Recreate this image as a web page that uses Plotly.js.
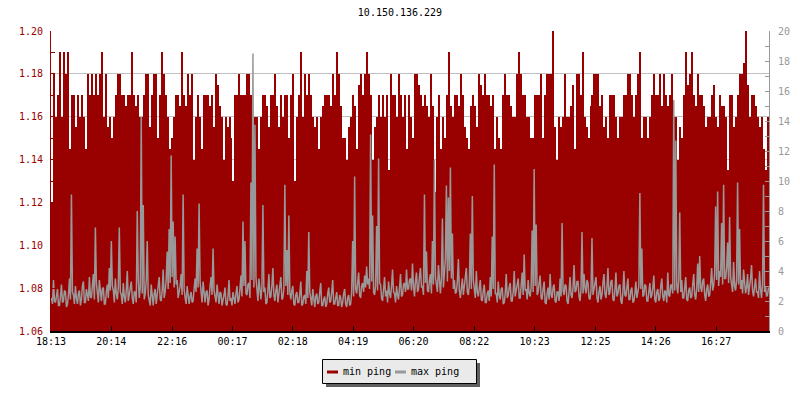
<!DOCTYPE html>
<html><head><meta charset="utf-8">
<script src="https://cdn.plot.ly/plotly-3.0.1.min.js"></script>
<style>html,body{margin:0;padding:0;background:#fff}#chart{width:800px;height:400px}</style>
</head><body><div id="chart"></div>
<script>
const chartTitle = '10.150.136.229';
const tickLabels = ['18:13','20:14','22:16','00:17','02:18','04:19','06:20','08:22','10:23','12:25','14:26','16:27'];
const tickMinutes = [0,121,243,364,485,606,727,849,970,1092,1213,1334];
const totalMinutes = 1440;
const seriesNames = ['min ping','max ping'];
const seriesColors = ['#990000','#999999'];

// min ping, one value every 4 minutes
const minPing = [
1.12,1.18,1.16,1.17,1.19,1.16,1.19,1.18,1.19,1.145,
1.17,1.17,1.155,1.17,1.16,1.17,1.16,1.145,1.18,1.17,
1.18,1.17,1.18,1.17,1.18,1.19,1.16,1.18,1.155,1.16,
1.15,1.16,1.17,1.18,1.18,1.17,1.17,1.165,1.17,1.17,
1.19,1.17,1.165,1.17,1.16,1.16,1.17,1.18,1.18,1.155,
1.17,1.18,1.18,1.15,1.17,1.19,1.18,1.17,1.16,1.145,
1.15,1.16,1.17,1.17,1.165,1.19,1.17,1.165,1.18,1.17,
1.18,1.14,1.16,1.17,1.16,1.145,1.17,1.17,1.17,1.165,
1.17,1.155,1.18,1.175,1.165,1.16,1.14,1.16,1.155,1.16,
1.15,1.13,1.17,1.17,1.18,1.17,1.17,1.17,1.18,1.18,
1.17,1.155,1.16,1.16,1.145,1.16,1.17,1.17,1.165,1.155,
1.17,1.17,1.18,1.165,1.155,1.17,1.16,1.17,1.17,1.15,
1.17,1.18,1.13,1.16,1.17,1.19,1.16,1.18,1.17,1.18,
1.17,1.16,1.155,1.16,1.145,1.16,1.165,1.17,1.17,1.17,
1.165,1.18,1.17,1.19,1.18,1.165,1.15,1.15,1.14,1.155,
1.16,1.17,1.165,1.145,1.175,1.18,1.17,1.18,1.19,1.18,
1.17,1.14,1.155,1.16,1.17,1.16,1.17,1.16,1.17,1.135,
1.18,1.17,1.17,1.16,1.18,1.17,1.16,1.17,1.145,1.17,
1.16,1.15,1.18,1.18,1.175,1.17,1.165,1.17,1.165,1.16,
1.18,1.165,1.125,1.16,1.17,1.145,1.16,1.15,1.17,1.19,
1.165,1.16,1.17,1.17,1.165,1.18,1.17,1.155,1.15,1.145,
1.165,1.17,1.165,1.155,1.18,1.175,1.17,1.18,1.17,1.17,
1.165,1.17,1.145,1.16,1.15,1.145,1.17,1.18,1.17,1.17,
1.165,1.16,1.16,1.18,1.19,1.18,1.17,1.17,1.16,1.16,
1.15,1.15,1.17,1.17,1.17,1.18,1.15,1.17,1.18,1.18,
1.18,1.20,1.155,1.14,1.16,1.155,1.16,1.18,1.16,1.16,
1.165,1.175,1.145,1.18,1.18,1.17,1.19,1.16,1.155,1.15,
1.165,1.17,1.18,1.18,1.18,1.165,1.17,1.155,1.16,1.15,
1.17,1.17,1.17,1.16,1.15,1.16,1.16,1.17,1.17,1.18,
1.18,1.17,1.16,1.17,1.18,1.19,1.15,1.16,1.16,1.15,
1.16,1.17,1.18,1.17,1.17,1.18,1.165,1.18,1.17,1.165,
1.17,1.18,1.16,1.16,1.14,1.155,1.15,1.17,1.19,1.175,
1.18,1.19,1.17,1.165,1.18,1.17,1.17,1.165,1.155,1.16,
1.16,1.17,1.175,1.16,1.155,1.17,1.165,1.165,1.16,1.135,
1.17,1.17,1.155,1.16,1.17,1.18,1.18,1.185,1.20,1.175,
1.16,1.17,1.17,1.165,1.16,1.155,1.16,1.145,1.135,1.16
];

// max ping, one value every 2 minutes
const maxPing = [
2.2,1.8,3.4,2.0,1.9,2.6,2.8,1.7,1.7,2.3,3.1,1.9,2.0,2.7,2.6,1.6,1.8,2.4,3.5,2.1,9.1,2.6,2.4,1.8,3.0,2.2,1.8,2.5,2.7,1.7,2.1,3.0,3.3,1.9,1.9,2.8,2.5,2.0,3.6,2.3,
2.2,2.9,3.8,2.1,6.9,3.2,2.6,1.9,3.4,2.4,2.0,2.8,2.9,1.8,1.8,2.6,3.1,2.2,4.2,2.7,6.0,3.0,2.7,1.9,3.5,2.5,2.1,2.9,6.9,2.6,2.4,1.8,3.2,2.3,1.9,2.7,4.0,2.0,2.5,3.1,
3.3,2.2,1.8,2.6,2.6,1.9,8.0,3.4,2.2,2.9,14.3,2.5,8.4,2.1,2.5,3.3,6.0,2.4,2.0,1.7,3.1,2.3,1.7,2.5,2.8,1.8,2.3,3.0,3.6,2.1,2.0,2.7,4.1,2.2,2.6,3.4,5.3,2.8,6.8,3.2,
11.7,3.6,7.3,2.9,6.3,3.1,3.4,2.2,2.5,3.0,3.8,2.4,9.1,2.8,2.2,1.8,3.0,2.5,1.8,2.3,2.6,1.9,2.0,2.8,3.5,2.6,5.5,2.9,8.5,3.3,2.4,1.9,3.3,2.2,1.9,2.6,2.7,1.7,2.1,3.0,
3.6,2.4,5.5,2.7,2.3,1.9,3.1,2.2,1.8,2.6,2.5,1.7,2.0,2.4,2.9,1.8,1.7,2.3,3.4,2.0,2.2,1.7,2.6,2.1,1.8,2.5,3.0,1.9,2.1,2.8,3.7,2.3,7.3,3.0,6.0,2.5,2.4,3.1,3.2,2.2,
9.9,3.4,18.5,2.9,13.75,3.6,2.6,2.0,3.5,2.4,2.1,2.9,8.4,2.6,2.9,1.8,1.9,2.7,3.8,2.2,2.3,3.0,4.2,2.4,2.0,2.7,3.1,1.9,2.5,3.3,3.6,2.1,2.2,2.8,9.75,3.0,5.4,2.4,7.7,2.6,
2.1,2.7,3.0,1.8,1.7,2.4,2.6,1.9,1.9,2.5,3.3,1.7,1.8,2.3,2.4,1.8,4.0,2.2,6.6,2.6,2.2,1.7,2.8,2.0,1.6,2.3,2.5,1.8,1.9,2.6,3.2,1.7,1.7,2.1,2.3,1.6,1.8,2.5,2.9,1.9,
2.0,2.6,3.4,1.8,1.8,2.2,2.6,1.7,1.7,2.4,2.2,1.6,1.9,2.5,2.8,1.8,1.6,2.2,2.4,1.7,1.8,2.6,6.0,2.3,10.3,2.8,2.5,3.2,3.9,2.4,2.2,3.0,3.2,2.6,3.7,2.9,4.3,3.1,3.5,2.8,
13.1,3.3,7.7,2.6,2.4,3.0,7.0,2.7,11.5,3.2,3.1,2.2,2.0,2.8,3.6,2.3,2.7,1.9,3.3,2.5,2.2,3.0,4.1,2.6,2.5,1.9,3.0,2.4,2.1,2.9,3.8,2.3,2.4,3.1,3.2,2.6,4.1,2.8,2.8,3.4,
3.5,2.7,4.5,3.0,2.3,3.3,3.9,2.6,2.8,3.6,4.2,2.9,3.0,2.4,9.1,3.2,5.3,2.7,2.6,3.4,3.8,2.5,6.0,3.1,11.4,3.6,3.2,2.6,4.4,3.0,2.5,3.5,7.5,2.9,3.6,4.8,9.7,3.3,8.9,4.0,
10.9,3.5,6.5,2.8,3.4,2.5,2.6,3.3,4.8,2.7,2.2,3.0,3.5,2.4,2.9,3.6,4.2,2.6,2.4,3.1,6.5,2.8,9.0,3.4,2.8,2.2,4.0,2.6,2.3,3.0,3.4,2.1,2.0,2.7,3.1,1.9,1.9,2.5,2.7,2.0,
3.6,2.3,6.3,2.8,11.1,2.5,2.5,1.9,3.3,2.4,2.1,2.8,2.9,1.8,1.9,2.5,3.8,2.2,2.4,2.9,3.2,2.0,2.0,2.6,4.0,2.3,2.6,3.1,3.5,2.2,2.2,2.9,3.9,2.4,5.1,2.7,2.8,2.1,3.4,2.5,
2.3,2.9,6.7,2.6,10.8,3.0,7.1,2.4,2.6,3.2,3.7,2.2,2.1,2.8,3.3,1.9,1.8,2.5,2.9,2.1,3.8,2.4,2.2,2.9,3.1,2.0,1.9,2.6,2.6,2.0,3.5,2.3,7.2,2.7,2.4,3.1,3.0,2.0,1.8,2.6,
3.6,2.4,2.2,2.9,4.4,2.6,2.7,3.3,3.3,2.3,2.0,2.8,6.6,2.5,3.8,2.9,2.5,3.4,3.2,2.2,2.1,2.7,6.2,2.4,2.8,3.3,3.6,2.2,1.9,2.6,3.0,2.1,2.4,3.2,3.8,2.5,2.2,2.9,4.2,2.4,
2.6,3.3,3.4,2.1,2.0,2.7,3.9,2.3,2.5,3.0,3.1,2.0,1.8,2.6,4.0,2.4,2.3,2.9,3.5,2.1,2.1,2.7,2.9,1.9,2.0,2.5,3.3,2.2,2.6,3.0,9.2,2.8,5.5,2.3,2.4,3.1,3.0,2.0,2.0,2.6,
3.2,2.2,2.4,2.9,3.7,2.1,1.9,2.6,2.8,2.0,2.2,3.0,3.5,2.3,2.0,2.7,2.6,1.9,3.9,2.4,2.3,3.1,3.0,2.5,15.4,2.7,12.7,3.0,2.5,3.4,7.9,2.6,3.4,2.2,2.2,2.9,3.6,2.1,2.0,2.7,
2.9,2.2,2.3,3.1,3.8,2.4,2.1,2.8,4.5,2.6,5.0,2.9,2.6,3.3,3.5,2.4,2.0,2.8,3.1,2.3,2.4,3.2,4.2,2.7,3.0,3.8,8.3,3.4,9.3,3.0,4.0,3.6,7.2,3.1,9.75,3.5,3.5,4.2,5.9,3.2,
7.6,3.6,3.2,2.6,4.6,3.0,2.7,3.4,9.9,3.1,6.8,2.8,3.4,2.5,4.1,3.2,2.5,2.9,3.8,2.4,2.9,3.5,4.4,2.7,2.3,3.0,3.5,2.6,2.6,2.2,4.0,2.8,2.2,3.1,9.75,2.6,3.0,2.3,2.4,2.9
];

const FONT = 'DejaVu Sans Mono, monospace';
// plot-area pixel frame (layout only)
const L = 51, R = 769, T = 31, B = 331, W = 800, H = 400;
const px = x => (x - L) / (R - L);
const py = y => (B - y) / (B - T);

const minStep = totalMinutes / minPing.length;
const maxStep = totalMinutes / maxPing.length;
const xMin = minPing.map((_, i) => (i + 0.5) * minStep);
const xMax = maxPing.map((_, i) => (i + 0.5) * maxStep);

const traces = [
  { type: 'bar', x: xMin, y: minPing, width: minStep, name: seriesNames[0],
    marker: { color: seriesColors[0], line: { width: 0 } }, yaxis: 'y', xaxis: 'x',
    showlegend: false, hoverinfo: 'skip' },
  { type: 'scatter', mode: 'lines', x: xMax, y: maxPing, name: seriesNames[1],
    line: { color: seriesColors[1], width: 1.5, shape: 'linear' }, yaxis: 'y2', xaxis: 'x',
    showlegend: false, hoverinfo: 'skip' }
];

// manual legend box (rrdtool style)
const lgY = 371;
const shapes = [
  { type: 'rect', xref: 'paper', yref: 'paper', x0: px(326), x1: px(480), y0: py(363), y1: py(387),
    fillcolor: '#5f5f5f', line: { width: 0 } },
  { type: 'rect', xref: 'paper', yref: 'paper', x0: px(322.5), x1: px(476.5), y0: py(359.5), y1: py(383.5),
    fillcolor: '#eaeaea', line: { color: '#000', width: 1 } },
  { type: 'line', xref: 'paper', yref: 'paper', x0: px(327), x1: px(338), y0: py(lgY+1), y1: py(lgY+1),
    line: { color: seriesColors[0], width: 3 } },
  { type: 'line', xref: 'paper', yref: 'paper', x0: px(395), x1: px(406), y0: py(lgY+1), y1: py(lgY+1),
    line: { color: seriesColors[1], width: 3 } }
];
const annotations = [
  { text: seriesNames[0], xref: 'paper', yref: 'paper', x: px(341), y: py(lgY), xanchor: 'left', yanchor: 'middle',
    showarrow: false, font: { family: FONT, size: 10, color: '#000' } },
  { text: seriesNames[1], xref: 'paper', yref: 'paper', x: px(409), y: py(lgY), xanchor: 'left', yanchor: 'middle',
    showarrow: false, font: { family: FONT, size: 10, color: '#000' } }
];

const layout = {
  width: W, height: H,
  margin: { l: L, r: W - R, t: T, b: H - B, pad: 0 },
  paper_bgcolor: '#fff', plot_bgcolor: '#fff',
  font: { family: FONT, size: 10, color: '#000' },
  title: { text: chartTitle, x: 0.5, xanchor: 'center', y: 1 - 12 / H, yanchor: 'middle', yref: 'container',
           font: { family: FONT, size: 10, color: '#000' } },
  bargap: 0, bargroupgap: 0,
  showlegend: false,
  xaxis: {
    range: [0, totalMinutes], tickmode: 'array', tickvals: tickMinutes, ticktext: tickLabels,
    ticks: 'inside', ticklen: 5, tickcolor: '#000', tickwidth: 1,
    showline: true, linecolor: '#000', linewidth: 1.5, showgrid: false, zeroline: false,
    tickfont: { family: FONT, size: 10, color: '#000' }, fixedrange: true
  },
  yaxis: {
    range: [1.06, 1.20], tickmode: 'linear', tick0: 1.06, dtick: 0.02, tickformat: '.2f',
    ticks: 'inside', ticklen: 4, tickcolor: '#990000',
    minor: { dtick: 0.01, ticks: 'inside', ticklen: 4, tickcolor: '#990000', showgrid: false },
    showline: true, linecolor: '#990000', linewidth: 1,
    showgrid: true, gridcolor: '#c0c0c0', gridwidth: 1, zeroline: false,
    tickfont: { family: FONT, size: 10, color: '#990000' }, ticklabelstandoff: 5, fixedrange: true
  },
  yaxis2: {
    range: [0, 20], overlaying: 'y', side: 'right', anchor: 'x',
    tickmode: 'linear', tick0: 0, dtick: 2,
    ticks: 'inside', ticklen: 4, tickcolor: '#999999',
    minor: { dtick: 1, ticks: 'inside', ticklen: 4, tickcolor: '#999999', showgrid: false },
    showline: true, linecolor: '#999999', linewidth: 1,
    showgrid: false, zeroline: false,
    tickfont: { family: FONT, size: 10, color: '#999999' }, ticklabelstandoff: 6, fixedrange: true
  },
  shapes: shapes,
  annotations: annotations
};

Plotly.newPlot('chart', traces, layout, { staticPlot: true, displayModeBar: false });
</script>
</body></html>
